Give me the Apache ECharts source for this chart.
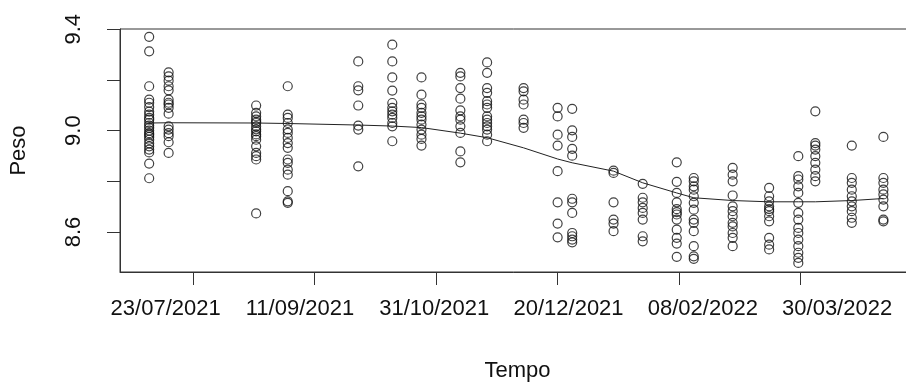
<!DOCTYPE html>
<html>
<head>
<meta charset="utf-8">
<script src="https://cdn.jsdelivr.net/npm/echarts@6/dist/echarts.min.js"></script>
<style>html,body{margin:0;padding:0;background:#fff;}#c{width:906px;height:383px;}</style>
</head>
<body>
<div id="c"></div>
<script>
// ---- data ----
const sampleDates = ['2021-07-05','2021-07-13','2021-08-18','2021-08-31','2021-09-29','2021-10-13','2021-10-25','2021-11-10','2021-11-21','2021-12-06','2021-12-20','2021-12-26','2022-01-12','2022-01-24','2022-02-07','2022-02-14','2022-03-02','2022-03-17','2022-03-29','2022-04-05','2022-04-20','2022-05-03'];
const pesoValues = [
  [9.370,9.313,9.175,9.122,9.110,9.093,9.075,9.063,9.050,9.043,9.030,9.020,9.011,9.000,8.990,8.984,8.975,8.964,8.950,8.938,8.925,8.914,8.870,8.812],
  [9.230,9.214,9.197,9.175,9.159,9.122,9.110,9.103,9.090,9.067,9.017,9.004,8.990,8.978,8.954,8.912],
  [9.099,9.070,9.056,9.043,9.035,9.030,9.017,9.005,8.997,8.985,8.978,8.964,8.938,8.912,8.899,8.886,8.673],
  [9.175,9.063,9.050,9.030,9.005,8.991,8.971,8.951,8.932,8.886,8.873,8.846,8.826,8.761,8.721,8.715],
  [9.273,9.175,9.159,9.099,9.020,9.004,8.859],
  [9.339,9.273,9.210,9.158,9.109,9.090,9.076,9.063,9.050,9.030,9.017,8.958],
  [9.210,9.142,9.103,9.090,9.070,9.056,9.043,9.024,9.004,8.984,8.967,8.941],
  [9.228,9.214,9.168,9.126,9.080,9.056,9.043,9.017,8.991,8.918,8.875],
  [9.269,9.228,9.168,9.149,9.116,9.103,9.090,9.056,9.043,9.030,9.017,9.004,8.984,8.958],
  [9.168,9.155,9.122,9.103,9.043,9.030,9.011],
  [9.090,9.056,8.984,8.941,8.840,8.717,8.633,8.579],
  [9.086,9.001,8.975,8.928,8.901,8.731,8.717,8.675,8.596,8.583,8.570,8.559],
  [8.842,8.833,8.717,8.649,8.633,8.603],
  [8.790,8.735,8.717,8.695,8.675,8.649,8.583,8.563],
  [8.875,8.798,8.754,8.717,8.690,8.678,8.669,8.649,8.609,8.577,8.554,8.502],
  [8.813,8.800,8.780,8.767,8.741,8.715,8.688,8.649,8.636,8.603,8.544,8.504,8.494],
  [8.853,8.826,8.800,8.744,8.701,8.682,8.662,8.636,8.622,8.596,8.577,8.544],
  [8.774,8.741,8.721,8.701,8.690,8.682,8.662,8.642,8.577,8.550,8.531],
  [8.899,8.820,8.807,8.780,8.754,8.715,8.675,8.649,8.616,8.596,8.570,8.544,8.518,8.498,8.478],
  [9.076,8.951,8.941,8.925,8.899,8.873,8.846,8.820,8.800],
  [8.941,8.813,8.794,8.767,8.741,8.721,8.701,8.682,8.656,8.636],
  [8.975,8.813,8.794,8.767,8.748,8.728,8.701,8.649,8.642]
];
const smoothValues = [9.030,9.031,9.030,9.028,9.022,9.018,9.012,8.990,8.972,8.932,8.888,8.873,8.840,8.794,8.754,8.735,8.724,8.719,8.719,8.719,8.724,8.732];
const xTickDates = ['2021-07-23','2021-09-11','2021-10-31','2021-12-20','2022-02-08','2022-03-30'];
const yTicks = [8.6, 8.8, 9.0, 9.2, 9.4];
const yTickLabels = [8.6, 9.0, 9.4];
const xRange = ['2021-06-23','2022-05-16'];
// the reference's tick labels are spread wider than its ticks; a second, label-only axis reproduces that
const xLabelRange = ['2021-07-06','2022-04-28'];
const yRange = [8.442, 9.401];
const xTitle = 'Tempo';
const yTitle = 'Peso';

// ---- build ----
const ts = d => Date.parse(d + 'T00:00:00Z');
const pad = n => (n < 10 ? '0' : '') + n;
const fmtDate = v => { const d = new Date(v); return pad(d.getUTCDate()) + '/' + pad(d.getUTCMonth() + 1) + '/' + d.getUTCFullYear(); };

const points = [];
sampleDates.forEach((d, i) => pesoValues[i].forEach(v => points.push([ts(d), v])));
const smooth = sampleDates.map((d, i) => [ts(d), smoothValues[i]]);

const FONT = 'Liberation Sans, Arial, sans-serif';
const TXT = '#111';
const LINE = '#333';
const FS = 22;
const chart = echarts.init(document.getElementById('c'), null, { renderer: 'canvas' });
chart.setOption({
  animation: false,
  backgroundColor: '#fff',
  grid: { left: 120, top: 29, right: -9, bottom: 111, containLabel: false, outerBoundsMode: 'none', show: true, borderColor: LINE, borderWidth: 1, backgroundColor: 'transparent' },
  xAxis: [{
    type: 'value',
    min: ts(xRange[0]), max: ts(xRange[1]),
    splitLine: { show: false },
    axisLine: { show: true, lineStyle: { color: LINE, width: 1 } },
    axisTick: { show: true, inside: false, length: 13, lineStyle: { color: LINE }, customValues: xTickDates.map(ts) },
    axisLabel: { show: false },
    name: xTitle, nameLocation: 'middle', nameGap: 88,
    nameTextStyle: { color: TXT, fontSize: FS, fontFamily: FONT }
  }, {
    type: 'value', position: 'bottom',
    min: ts(xLabelRange[0]), max: ts(xLabelRange[1]),
    splitLine: { show: false }, axisLine: { show: false }, axisTick: { show: false },
    axisLabel: { customValues: xTickDates.map(ts), formatter: v => fmtDate(v), color: TXT, fontSize: FS, fontFamily: FONT, margin: 26, hideOverlap: false }
  }],
  yAxis: {
    type: 'value',
    min: yRange[0], max: yRange[1],
    splitLine: { show: false },
    axisLine: { show: true, lineStyle: { color: LINE, width: 1 } },
    axisTick: { show: true, inside: false, length: 13, lineStyle: { color: LINE }, customValues: yTicks },
    axisLabel: { customValues: yTickLabels, rotate: 90, formatter: v => v.toFixed(1), color: TXT, fontSize: FS, fontFamily: FONT, margin: 35, hideOverlap: false },
    name: yTitle, nameLocation: 'middle', nameGap: 90, nameRotate: 90,
    nameTextStyle: { color: TXT, fontSize: FS, fontFamily: FONT }
  },
  series: [
    {
      type: 'scatter', xAxisIndex: 0, data: points, symbol: 'circle', symbolSize: 9,
      itemStyle: { color: 'rgba(0,0,0,0)', borderColor: '#111', borderWidth: 1.2 },
      emphasis: { disabled: true }, z: 2
    },
    {
      type: 'line', xAxisIndex: 0, data: smooth, symbol: 'none', smooth: false,
      lineStyle: { color: '#222', width: 1 }, z: 3
    }
  ]
});
</script>
</body>
</html>
